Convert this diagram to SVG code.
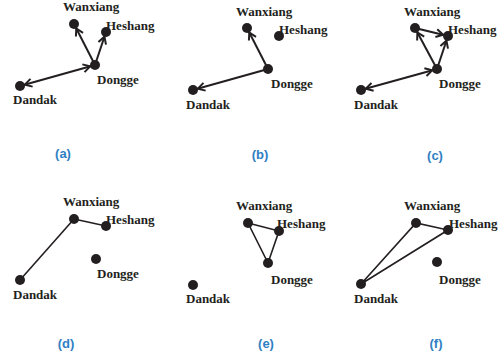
<svg xmlns="http://www.w3.org/2000/svg" width="504" height="356" viewBox="0 0 504 356">
<style>
.n{fill:#231f20}
.t{font-family:"Liberation Serif","DejaVu Serif",serif;font-weight:bold;font-size:13px;fill:#231f20}
.c{font-family:"Liberation Sans","DejaVu Sans",sans-serif;font-weight:bold;font-size:13px;fill:#2f80c3;text-anchor:middle}
.e{stroke:#231f20;stroke-width:2;fill:none}
.u{stroke:#231f20;stroke-width:1.6;fill:none}
.a{marker-end:url(#ah)}
.b{marker-end:url(#ah);marker-start:url(#ah)}
</style>
<defs>
<marker id="ah" markerUnits="userSpaceOnUse" orient="auto-start-reverse" refX="5" refY="0" markerWidth="10" markerHeight="10" overflow="visible">
<path d="M-7,-4 L0,0 L-7,4" fill="none" stroke="#231f20" stroke-width="2"/>
</marker>
</defs>
<rect width="504" height="356" fill="#fff"/>
<g id="connectors">
<line class="e a" x1="95" y1="65" x2="74" y2="24"/>
<line class="e a" x1="95" y1="65" x2="106" y2="32"/>
<line class="e b" x1="20" y1="86" x2="95" y2="65"/>
<line class="e a" x1="268" y1="69" x2="247" y2="28"/>
<line class="e a" x1="268" y1="69" x2="193" y2="90"/>
<line class="e a" x1="415" y1="28" x2="448" y2="36"/>
<line class="e a" x1="437" y1="69" x2="415" y2="28"/>
<line class="e a" x1="437" y1="69" x2="448" y2="36"/>
<line class="e b" x1="361" y1="90" x2="437" y2="69"/>
<line class="u" x1="20" y1="280" x2="74" y2="219"/>
<line class="u" x1="74" y1="219" x2="106" y2="226"/>
<polygon class="u" points="248,223 279,231 268,263"/>
<polygon class="u" points="361,284 416,223 448,230"/>
</g>
<g id="panel-a">
<g id="a-wanxiang"><circle class="n" cx="74" cy="24" r="5"/><text class="t" x="63" y="11">Wanxiang</text></g>
<g id="a-heshang"><circle class="n" cx="106" cy="32" r="5"/><text class="t" x="106" y="30">Heshang</text></g>
<g id="a-dongge"><circle class="n" cx="95" cy="65" r="5"/><text class="t" x="97" y="84">Dongge</text></g>
<g id="a-dandak"><circle class="n" cx="20" cy="86" r="5"/><text class="t" x="13" y="104">Dandak</text></g>
<text class="c" x="63" y="158">(a)</text>
</g>
<g id="panel-b">
<g id="b-wanxiang"><circle class="n" cx="247" cy="28" r="5"/><text class="t" x="236" y="16">Wanxiang</text></g>
<g id="b-heshang"><circle class="n" cx="279" cy="36" r="5"/><text class="t" x="279" y="34">Heshang</text></g>
<g id="b-dongge"><circle class="n" cx="268" cy="69" r="5"/><text class="t" x="271" y="88">Dongge</text></g>
<g id="b-dandak"><circle class="n" cx="193" cy="90" r="5"/><text class="t" x="186" y="109">Dandak</text></g>
<text class="c" x="260" y="159">(b)</text>
</g>
<g id="panel-c">
<g id="c-wanxiang"><circle class="n" cx="415" cy="28" r="5"/><text class="t" x="404" y="16">Wanxiang</text></g>
<g id="c-heshang"><circle class="n" cx="448" cy="36" r="5"/><text class="t" x="448" y="34">Heshang</text></g>
<g id="c-dongge"><circle class="n" cx="437" cy="69" r="5"/><text class="t" x="439" y="88">Dongge</text></g>
<g id="c-dandak"><circle class="n" cx="361" cy="90" r="5"/><text class="t" x="354" y="109">Dandak</text></g>
<text class="c" x="435" y="160">(c)</text>
</g>
<g id="panel-d">
<g id="d-wanxiang"><circle class="n" cx="74" cy="219" r="5"/><text class="t" x="63" y="206">Wanxiang</text></g>
<g id="d-heshang"><circle class="n" cx="106" cy="226" r="5"/><text class="t" x="106" y="224">Heshang</text></g>
<g id="d-dongge"><circle class="n" cx="96" cy="259" r="5"/><text class="t" x="97" y="278">Dongge</text></g>
<g id="d-dandak"><circle class="n" cx="20" cy="280" r="5"/><text class="t" x="13" y="299">Dandak</text></g>
<text class="c" x="66" y="348">(d)</text>
</g>
<g id="panel-e">
<g id="e-wanxiang"><circle class="n" cx="248" cy="223" r="5"/><text class="t" x="236" y="210">Wanxiang</text></g>
<g id="e-heshang"><circle class="n" cx="279" cy="231" r="5"/><text class="t" x="277" y="228">Heshang</text></g>
<g id="e-dongge"><circle class="n" cx="268" cy="263" r="5"/><text class="t" x="271" y="284">Dongge</text></g>
<g id="e-dandak"><circle class="n" cx="193" cy="285" r="5"/><text class="t" x="186" y="303">Dandak</text></g>
<text class="c" x="266" y="348">(e)</text>
</g>
<g id="panel-f">
<g id="f-wanxiang"><circle class="n" cx="416" cy="223" r="5"/><text class="t" x="404" y="210">Wanxiang</text></g>
<g id="f-heshang"><circle class="n" cx="448" cy="230" r="5"/><text class="t" x="449" y="228">Heshang</text></g>
<g id="f-dongge"><circle class="n" cx="437" cy="262" r="5"/><text class="t" x="439" y="284">Dongge</text></g>
<g id="f-dandak"><circle class="n" cx="361" cy="284" r="5"/><text class="t" x="354" y="303">Dandak</text></g>
<text class="c" x="436" y="348">(f)</text>
</g>
</svg>
